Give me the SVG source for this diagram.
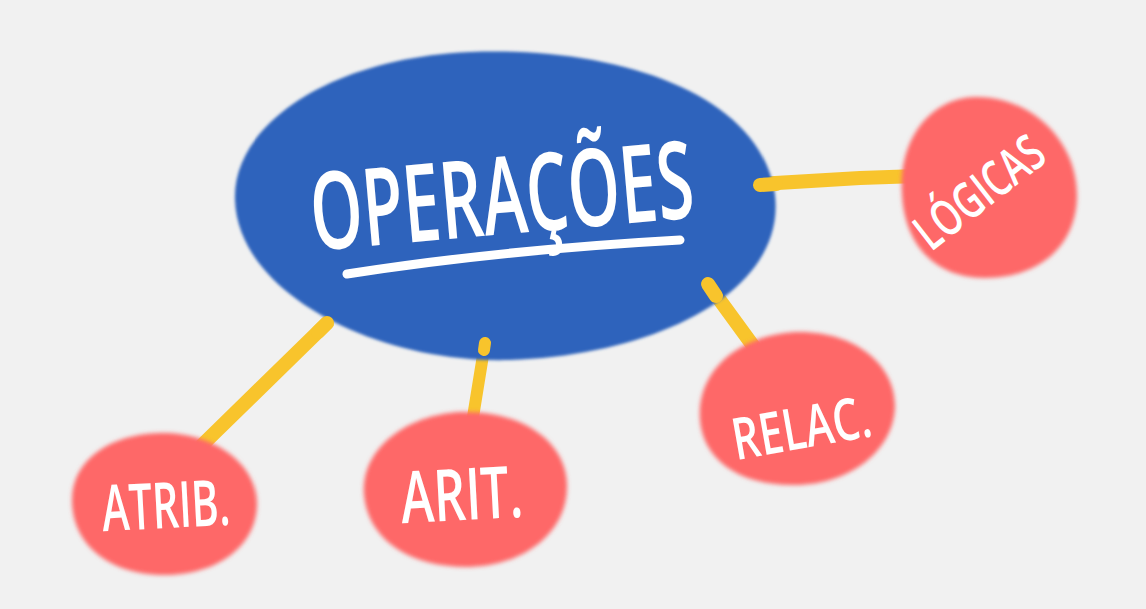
<svg xmlns="http://www.w3.org/2000/svg" width="1146" height="609" viewBox="0 0 1146 609">
<defs>
<filter id="soft" x="-10%" y="-10%" width="120%" height="120%"><feGaussianBlur stdDeviation="2"/></filter>
<filter id="soft2" x="-10%" y="-10%" width="120%" height="120%"><feGaussianBlur stdDeviation="1.5"/></filter>
<style>
.red{fill:#fe6868;filter:url(#soft)}
.blue{fill:#2e63bc;filter:url(#soft2)}
.lbl{fill:#ffffff;font-family:"Open Sans","DejaVu Sans",sans-serif;font-weight:600;text-anchor:middle}
.con{stroke:#f8c42c;stroke-linecap:round;fill:none}
</style>
</defs>
<rect width="1146" height="609" fill="#f1f1f1"/>
<g id="connectors">
<line class="con" x1="327" y1="323" x2="195" y2="452" stroke-width="14"/>
<line class="con" x1="485" y1="343" x2="473" y2="417" stroke-width="12"/>
<path class="con" d="M708 284 L762 358" stroke-width="14"/>
<path class="con" d="M760 184 L860 178 L918 176" stroke-width="14"/>
</g>
<g id="operacoes">
<path class="blue" d="M235 200 C232 125 330 58 470 52 C620 46 762 95 775 195 C786 290 660 355 510 360 C380 364 238 295 235 200 Z"/>
<line class="con" x1="760" y1="185" x2="776" y2="184" stroke-width="14"/>
<line class="con" x1="708" y1="284" x2="716" y2="296" stroke-width="14"/>
<line class="con" x1="327" y1="323" x2="318" y2="332" stroke-width="14"/>
<line class="con" x1="485" y1="343" x2="484" y2="350" stroke-width="12"/>
<text class="lbl" x="505" y="234" font-size="108" font-weight="400" textLength="384" lengthAdjust="spacingAndGlyphs" transform="rotate(-5 505 234)">OPERAÇÕES</text>
<path d="M347 274 Q500 250 680 240" stroke="#ffffff" stroke-width="9" stroke-linecap="round" fill="none"/>
</g>
<g id="atrib">
<path class="red" d="M72 500 C72 460 110 434 160 433 C215 432 258 465 257 505 C256 548 215 575 165 575 C110 575 72 545 72 500 Z"/>
<text class="lbl" x="167" y="528" font-size="64" textLength="128" lengthAdjust="spacingAndGlyphs" transform="rotate(-3 167 528)">ATRIB.</text>
</g>
<g id="arit">
<path class="red" d="M364 495 C360 450 405 415 460 412 C520 410 566 440 567 485 C568 535 520 566 470 567 C410 568 368 540 364 495 Z"/>
<text class="lbl" x="463" y="520" font-size="72" textLength="122" lengthAdjust="spacingAndGlyphs" transform="rotate(-3 463 520)">ARIT.</text>
</g>
<g id="relac">
<path class="red" d="M700 420 C696 370 740 335 795 332 C855 330 895 365 895 405 C895 450 850 485 795 485 C740 486 703 460 700 420 Z"/>
<text class="lbl" x="805" y="448" font-size="58" textLength="140" lengthAdjust="spacingAndGlyphs" transform="rotate(-10 805 448)">RELAC.</text>
</g>
<g id="logicas">
<path class="red" d="M902 195 C898 140 930 98 975 97 C1030 96 1077 140 1077 195 C1077 245 1040 278 985 278 C935 278 905 245 902 195 Z"/>
<text class="lbl" x="990" y="206" font-size="50" textLength="150" lengthAdjust="spacingAndGlyphs" transform="rotate(-38 990 206)">LÓGICAS</text>
</g>
</svg>
